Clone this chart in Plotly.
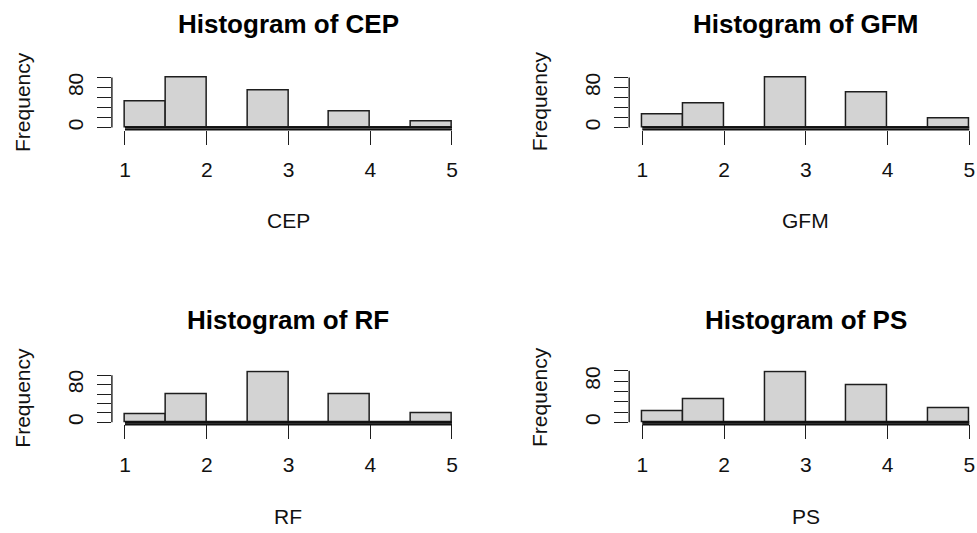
import plotly.graph_objects as go

# ---- data ----
variables = ["CEP", "GFM", "RF", "PS"]
breaks = [1.0, 1.5, 2.0, 2.5, 3.0, 3.5, 4.0, 4.5, 5.0]
cep_counts = [51, 100, 0, 74, 0, 31, 0, 12]
gfm_counts = [25, 48, 0, 100, 0, 70, 0, 18]
rf_counts = [17, 60, 0, 106, 0, 60, 0, 20]
ps_counts = [22, 44, 0, 97, 0, 71, 0, 28]
x_ticks = [1, 2, 3, 4, 5]
x_tick_labels = ["1", "2", "3", "4", "5"]
y_ticks = [0, 20, 40, 60, 80, 100]
y_tick_labels = ["0", "", "", "", "80", ""]

all_counts = [cep_counts, gfm_counts, rf_counts, ps_counts]

# ---- layout geometry (pixels) ----
W, H = 977, 533
FONT = "Liberation Sans, Arial, sans-serif"
AX_SIZE = 21
TITLE_SIZE = 26
PX_PER_UNIT = 81.75
col_left_px = [111.9, 629.2]          # left edge of plot region per column
row_bottom_px = [126.7, 424.3]        # bottom (x-axis line) per row, from top
PLOT_H = 54.5

mids = [(a + b) / 2 for a, b in zip(breaks[:-1], breaks[1:])]
widths = [b - a for a, b in zip(breaks[:-1], breaks[1:])]

fig = go.Figure()
layout = dict(
    width=W, height=H, margin=dict(l=0, r=0, t=0, b=0),
    paper_bgcolor="white", plot_bgcolor="white",
    showlegend=False, font=dict(family=FONT, size=AX_SIZE, color="black"),
    bargap=0,
)
annotations = []
shapes = []

for i, (name, counts) in enumerate(zip(variables, all_counts)):
    r, c = divmod(i, 2)
    sfx = "" if i == 0 else str(i + 1)
    xa, ya = "x" + sfx, "y" + sfx
    m = max(counts)
    x0_px = col_left_px[c]
    full_w = PX_PER_UNIT * (breaks[-1] - breaks[0]) * 1.08
    x1_px = min(W, x0_px + full_w)
    xlo = breaks[0] - 0.04 * (breaks[-1] - breaks[0])
    xhi = xlo + (x1_px - x0_px) / PX_PER_UNIT
    yb = row_bottom_px[r]
    yt = yb - PLOT_H
    fig.add_trace(go.Bar(
        x=mids, y=counts, width=widths, xaxis=xa, yaxis=ya,
        marker=dict(color="#D3D3D3", line=dict(color="#1e1e1e", width=1.5)),
        hoverinfo="skip",
    ))
    layout["xaxis" + sfx] = dict(
        domain=[x0_px / W, x1_px / W], range=[xlo, xhi], anchor=ya,
        tickmode="array", tickvals=x_ticks, ticktext=x_tick_labels,
        ticks="outside", ticklen=14, tickwidth=1.4, tickcolor="#1e1e1e",
        showline=False, showgrid=False, zeroline=False,
        tickfont=dict(family=FONT, size=AX_SIZE, color="#111111"),
        ticklabelstandoff=7, fixedrange=True,
    )
    layout["yaxis" + sfx] = dict(
        domain=[(H - yb) / H, (H - yt) / H], range=[-0.04 * m, 1.04 * m], anchor=xa,
        tickmode="array", tickvals=y_ticks, ticktext=y_tick_labels,
        ticks="outside", ticklen=14, tickwidth=1.4, tickcolor="#1e1e1e",
        showline=False, showgrid=False, zeroline=False, tickangle=-90,
        tickfont=dict(family=FONT, size=AX_SIZE, color="#111111"),
        ticklabelstandoff=6, fixedrange=True,
    )
    # axis lines spanning the tick range (R style) and the zero line of the bins
    shapes.append(dict(type="line", xref=xa + " domain", yref=ya,
                       x0=0, x1=0, y0=y_ticks[0], y1=y_ticks[-1],
                       line=dict(color="#1e1e1e", width=1.4)))
    shapes.append(dict(type="line", xref=xa, yref=ya + " domain",
                       x0=x_ticks[0], x1=x_ticks[-1], y0=0, y1=0,
                       line=dict(color="#111111", width=2.2)))
    shapes.append(dict(type="line", xref=xa, yref=ya,
                       x0=breaks[0], x1=breaks[-1], y0=0, y1=0,
                       line=dict(color="#111111", width=2.2)))
    cx = (x0_px + full_w / 2) / W
    off = 298.5 * r
    annotations.append(dict(text="Histogram of " + name, xref="paper", yref="paper",
                            x=cx, y=(H - (20 + off)) / H, showarrow=False,
                            xanchor="center", yanchor="middle",
                            font=dict(family=FONT, size=TITLE_SIZE, color="black", weight="bold")))
    annotations.append(dict(text=name, xref="paper", yref="paper",
                            x=cx, y=(H - (219 + off)) / H, showarrow=False,
                            xanchor="center", yanchor="middle",
                            font=dict(family=FONT, size=AX_SIZE, color="#111111")))
    annotations.append(dict(text="Frequency", xref="paper", yref="paper",
                            x=(x0_px - 89.5) / W, y=(H - (98.5 + off)) / H, showarrow=False,
                            xanchor="center", yanchor="middle", textangle=-90,
                            font=dict(family=FONT, size=AX_SIZE, color="#111111")))

layout["annotations"] = annotations
layout["shapes"] = shapes
fig.update_layout(**layout)

fig.write_html("out.html", config={"displayModeBar": False},
               post_script="document.body.style.margin='0';document.body.style.overflow='hidden';")
